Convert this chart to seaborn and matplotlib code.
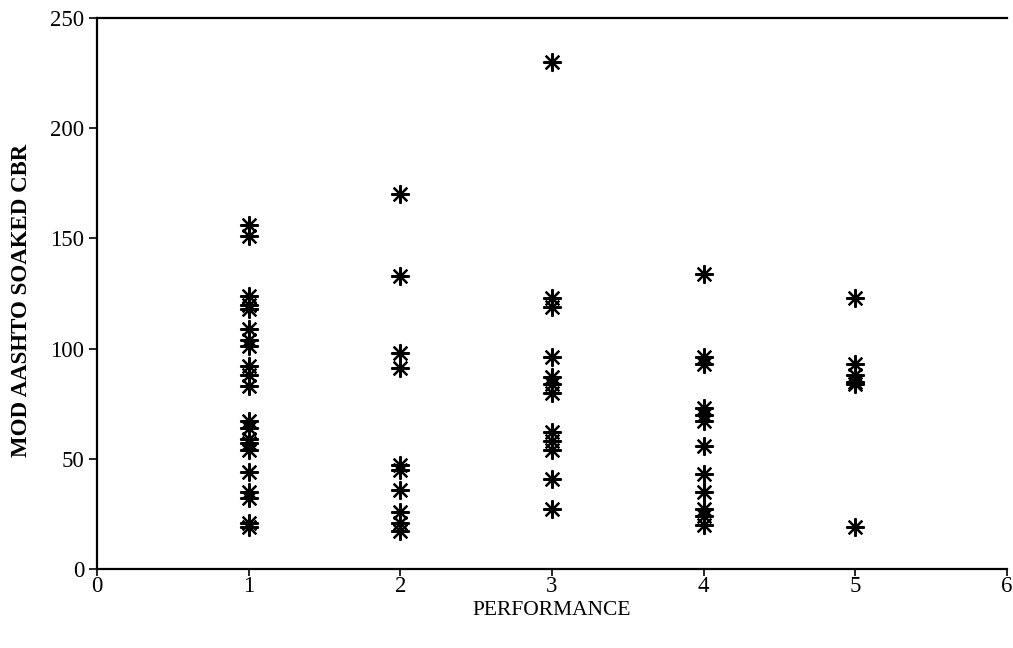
import matplotlib
matplotlib.use("Agg")
import matplotlib.pyplot as plt
import seaborn as sns
import pandas as pd

# Data
perf1 = [156, 151, 124, 120, 118, 109, 104, 101, 92, 88, 83, 67, 64, 59, 57, 54, 44, 35, 32, 21, 19]
perf2 = [170, 133, 98, 91, 47, 45, 36, 26, 21, 17]
perf3 = [230, 123, 119, 96, 87, 84, 80, 62, 58, 54, 41, 27]
perf4 = [134, 96, 93, 73, 70, 67, 56, 43, 35, 27, 24, 20]
perf5 = [123, 93, 88, 85, 84, 19]
performance_levels = [1, 2, 3, 4, 5]
x_ticks = [0, 1, 2, 3, 4, 5, 6]
y_ticks = [0, 50, 100, 150, 200, 250]

groups = [perf1, perf2, perf3, perf4, perf5]
rows = []
for lvl, vals in zip(performance_levels, groups):
    for v in vals:
        rows.append({"PERFORMANCE": lvl, "CBR": v})
df = pd.DataFrame(rows)

sns.set_theme(style="white")
plt.rcParams['font.family'] = ['Liberation Serif', 'DejaVu Serif']

fig = plt.figure(figsize=(10.13, 6.48), dpi=100)
ax = fig.add_axes([0.0957, 0.122, 0.8983, 0.850])

sns.scatterplot(data=df, x="PERFORMANCE", y="CBR", marker=(8, 2, 0), s=150,
                color="black", linewidth=1.6, ax=ax, legend=False)

ax.set_xlim(0, 6)
ax.set_ylim(0, 250)
ax.set_xticks(x_ticks)
ax.set_yticks(y_ticks)
ax.tick_params(axis="both", direction="out", width=1.2, colors="black",
               labelsize=16.5, bottom=True, left=True)
ax.tick_params(axis="x", length=5, pad=0)
ax.tick_params(axis="y", length=6, pad=3)

for side in ["left", "bottom", "top"]:
    ax.spines[side].set_visible(True)
    ax.spines[side].set_color("black")
    ax.spines[side].set_linewidth(1.6)
ax.spines["right"].set_visible(False)

ax.set_xlabel("PERFORMANCE", fontsize=15.5, color="black")
ax.set_ylabel("MOD AASHTO SOAKED CBR", fontsize=16.5, fontweight="bold", color="black")
ax.xaxis.set_label_coords(0.5, -0.058)
ax.yaxis.set_label_coords(-0.071, 0.488)

fig.savefig("out.png", dpi=100, facecolor="white")
